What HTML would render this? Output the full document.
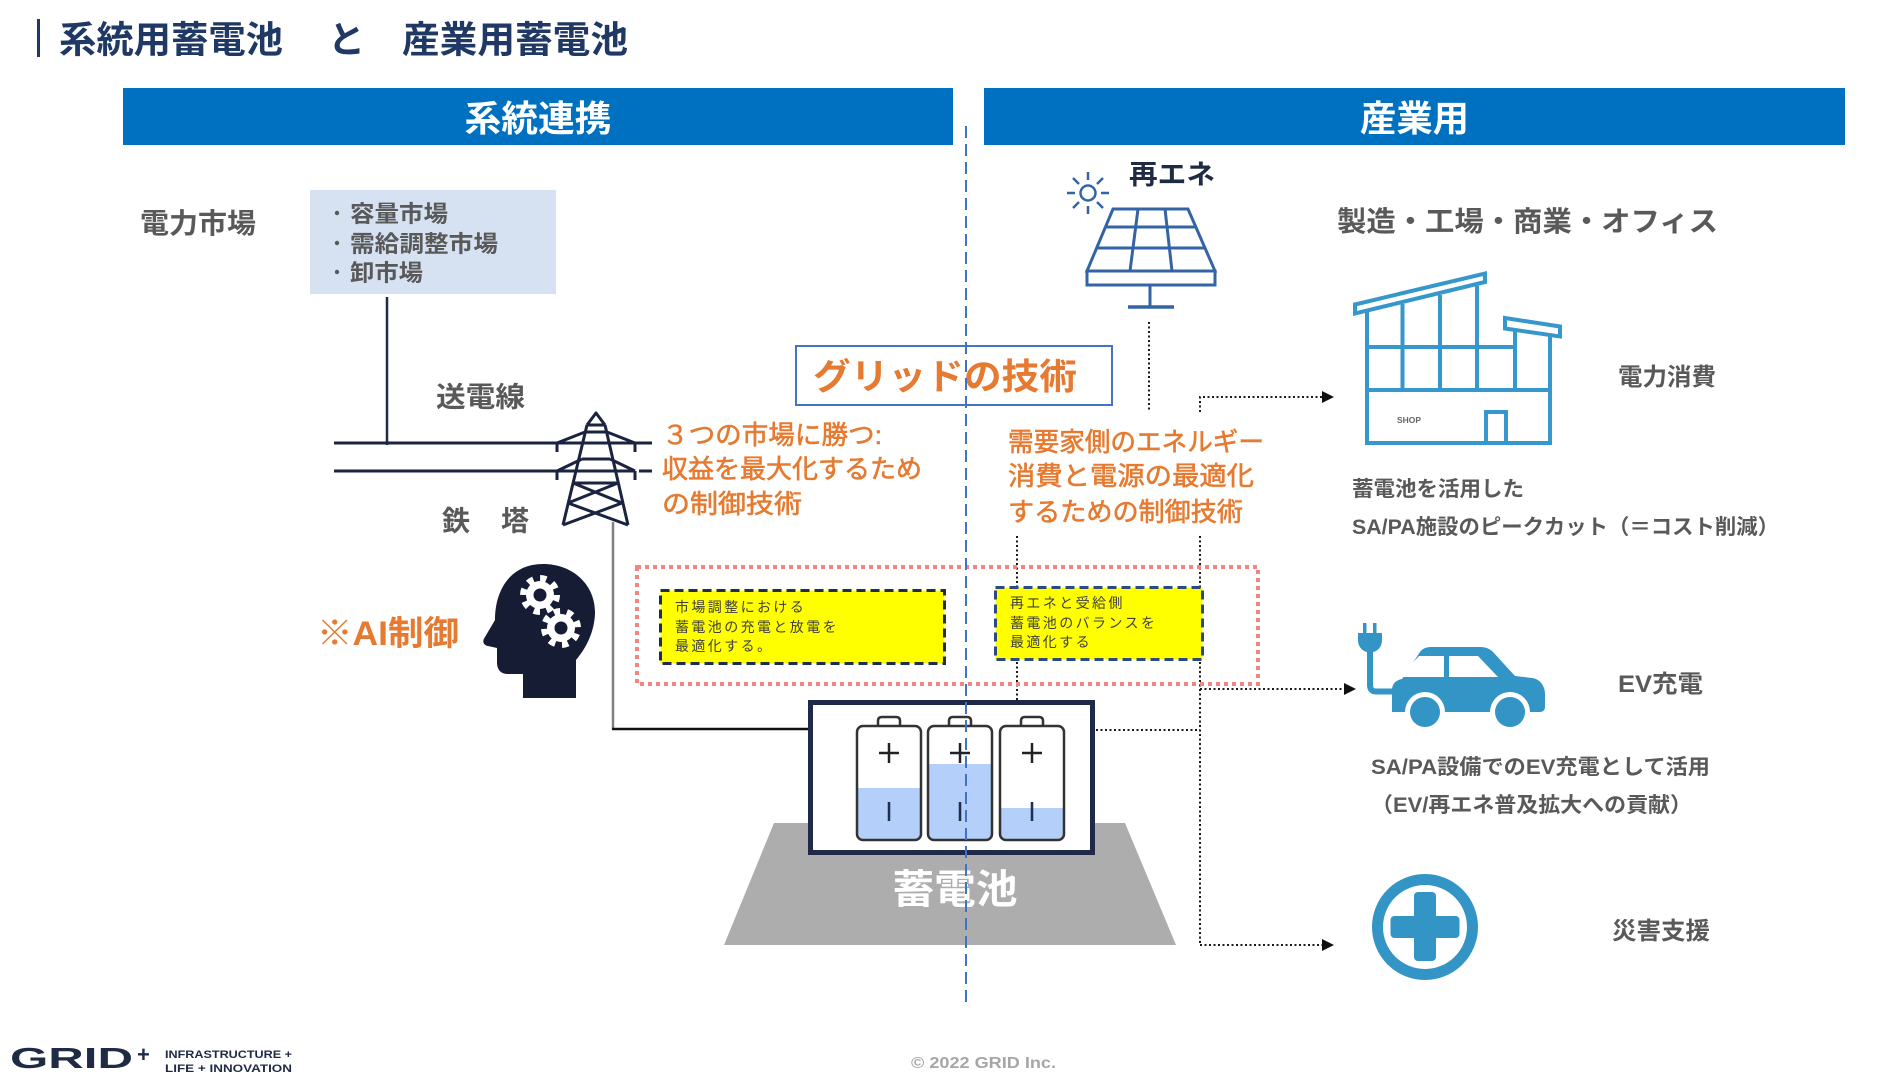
<!DOCTYPE html>
<html><head><meta charset="utf-8"><style>
html,body{margin:0;padding:0;background:#fff;}
svg{display:block;}
text{font-family:"Liberation Sans","Noto Sans CJK JP",sans-serif;}
.b{font-weight:bold;}
.g{fill:#595959;font-weight:bold;}
.o{fill:#e57a30;}
.ot{fill:#e57a30;stroke:#e57a30;stroke-width:0.6;}
</style></head><body>
<svg width="1902" height="1080" viewBox="0 0 1902 1080" xmlns="http://www.w3.org/2000/svg">
<rect width="1902" height="1080" fill="#fff"/>
<!-- Title -->
<rect x="37" y="19" width="3" height="38" fill="#1f3864"/>
<text x="59" y="52.5" font-size="37" class="b" fill="#1f3864" textLength="224" lengthAdjust="spacingAndGlyphs">系統用蓄電池</text>
<text x="328" y="52.5" font-size="37" class="b" fill="#1f3864">と</text>
<text x="402" y="52.5" font-size="37" class="b" fill="#1f3864" textLength="226" lengthAdjust="spacingAndGlyphs">産業用蓄電池</text>
<!-- Header bars -->
<rect x="123" y="88" width="830" height="57" fill="#0070c0"/>
<rect x="984" y="88" width="861" height="57" fill="#0070c0"/>
<text x="538" y="131" font-size="36" class="b" fill="#fff" text-anchor="middle" textLength="147" lengthAdjust="spacingAndGlyphs">系統連携</text>
<text x="1414.5" y="131" font-size="36" class="b" fill="#fff" text-anchor="middle" textLength="109" lengthAdjust="spacingAndGlyphs">産業用</text>
<!-- Market -->
<text x="140" y="233" font-size="28" class="g" textLength="116" lengthAdjust="spacingAndGlyphs">電力市場</text>
<rect x="310" y="190" width="246" height="104" fill="#d6e2f2"/>
<circle cx="337" cy="213" r="2.2" fill="#595959"/>
<circle cx="337" cy="243" r="2.2" fill="#595959"/>
<circle cx="337" cy="272" r="2.2" fill="#595959"/>
<text x="350" y="221.5" font-size="23" class="g" textLength="98" lengthAdjust="spacingAndGlyphs">容量市場</text>
<text x="350" y="251.5" font-size="23" class="g" textLength="148" lengthAdjust="spacingAndGlyphs">需給調整市場</text>
<text x="350" y="280.5" font-size="23" class="g" textLength="73" lengthAdjust="spacingAndGlyphs">卸市場</text>
<!-- transmission -->
<line x1="387" y1="297" x2="387" y2="445" stroke="#1e2a4a" stroke-width="2.5"/>
<text x="436" y="406.5" font-size="28" class="g" textLength="89" lengthAdjust="spacingAndGlyphs">送電線</text>
<text x="442" y="530.5" font-size="28" class="g">鉄</text>
<text x="501" y="530.5" font-size="28" class="g">塔</text>
<g stroke="#1a2340" stroke-width="3" fill="none" stroke-linejoin="round">
<line x1="334" y1="443" x2="652" y2="443"/>
<line x1="334" y1="471" x2="557" y2="471"/>
<line x1="557" y1="471" x2="635" y2="471"/>
<line x1="639" y1="471" x2="652" y2="471"/>
<path d="M587 425 L596 413 L605 425"/>
<path d="M587 425 L563 525 M605 425 L628 525"/>
<path d="M585 432 L557 443 M607 432 L635 443"/>
<path d="M582 459 L557 471 M610 459 L635 471"/>
<path d="M557 443 L557 452 M635 443 L635 452 M557 471 L557 480 M635 471 L635 480"/>
<path d="M587 425 L605 425 M585 432 L607 432 M582 459 L610 459 M573 483 L618 483"/>
<path d="M573 483 L622 503 M618 483 L568 503 M568 503 L628 525 M622 503 L563 525"/>
</g>
<line x1="613" y1="522" x2="613" y2="729" stroke="#808080" stroke-width="2.5"/>
<line x1="612" y1="729" x2="810" y2="729" stroke="#111" stroke-width="2.5"/>
<!-- AI -->
<text x="317" y="645" font-size="34" class="b o" textLength="142" lengthAdjust="spacingAndGlyphs">※AI制御</text>
<path d="M523 698 L523 674 L508 674 C500 674 497 669 497 662 L497 648 L488 646 C483 645 482 641 485 637 L495 620 C495 588 512 564 543 564 C574 564 596 586 595 614 C594 633 586 648 576 660 L576 698 Z" fill="#151c34"/>
<g fill="#fff">
<circle cx="540" cy="595" r="14"/>
<circle cx="540" cy="595" r="16" fill="none" stroke="#fff" stroke-width="8" stroke-dasharray="6 6.566"/>
<circle cx="561" cy="628" r="14"/>
<circle cx="561" cy="628" r="16" fill="none" stroke="#fff" stroke-width="8" stroke-dasharray="6 6.566" transform="rotate(20 561 628)"/>
</g>
<circle cx="540" cy="595" r="6.5" fill="#151c34"/>
<circle cx="561" cy="628" r="6.5" fill="#151c34"/>
<!-- Grid tech box -->
<rect x="796" y="346" width="316" height="59" fill="#fff" stroke="#4472c4" stroke-width="2"/>
<text x="813" y="389" font-size="36" class="b o" textLength="264" lengthAdjust="spacingAndGlyphs">グリッドの技術</text>
<!-- orange paragraphs -->
<text x="662" y="444" font-size="26" class="ot" textLength="220" lengthAdjust="spacingAndGlyphs">３つの市場に勝つ:</text>
<text x="662" y="478" font-size="26" class="ot" textLength="260" lengthAdjust="spacingAndGlyphs">収益を最大化するため</text>
<text x="662" y="513" font-size="26" class="ot" textLength="140" lengthAdjust="spacingAndGlyphs">の制御技術</text>
<text x="1008" y="451" font-size="26" class="ot" textLength="256" lengthAdjust="spacingAndGlyphs">需要家側のエネルギー</text>
<text x="1008" y="485" font-size="26" class="ot" textLength="246" lengthAdjust="spacingAndGlyphs">消費と電源の最適化</text>
<text x="1008" y="521" font-size="26" class="ot" textLength="235" lengthAdjust="spacingAndGlyphs">するための制御技術</text>
<!-- dotted connectors -->
<g stroke="#1a1a1a" stroke-width="2" stroke-dasharray="2 2.5" fill="none">
<line x1="1149" y1="322" x2="1149" y2="410"/>
<path d="M1200 412 L1200 397 L1323 397"/>
<line x1="1017" y1="536" x2="1017" y2="700"/>
<line x1="1200" y1="536" x2="1200" y2="945"/>
<line x1="1200" y1="689" x2="1345" y2="689"/>
<line x1="1096" y1="730" x2="1200" y2="730"/>
<line x1="1200" y1="945" x2="1323" y2="945"/>
</g>
<g fill="#111">
<polygon points="1322,391 1334,397 1322,403"/>
<polygon points="1344,683 1356,689 1344,695"/>
<polygon points="1322,939 1334,945 1322,951"/>
</g>
<!-- red dotted box -->
<rect x="637" y="567" width="621" height="117" fill="none" stroke="#f28580" stroke-width="4" stroke-dasharray="4 4"/>
<!-- yellow boxes -->
<rect x="660.5" y="590.5" width="284" height="73" fill="#ffff00" stroke="#1f2d4f" stroke-width="3" stroke-dasharray="9 5"/>
<g font-size="14" fill="#404040" letter-spacing="2.4">
<text x="675" y="612">市場調整における</text>
<text x="675" y="632">蓄電池の充電と放電を</text>
<text x="675" y="651">最適化する。</text>
</g>
<rect x="995.5" y="587.5" width="207" height="72" fill="#ffff00" stroke="#2c4a80" stroke-width="3" stroke-dasharray="9 5"/>
<g font-size="14" fill="#404040" letter-spacing="2.4">
<text x="1010" y="608">再エネと受給側</text>
<text x="1010" y="628">蓄電池のバランスを</text>
<text x="1010" y="647">最適化する</text>
</g>
<!-- battery base -->
<polygon points="774,823 1125,823 1176,945 724,945" fill="#adadad"/>
<rect x="810.5" y="702.5" width="282" height="150" fill="#fff" stroke="#1f2a4a" stroke-width="5"/>
<!-- batteries -->
<g>
<path d="M857 788 L921 788 L921 834 Q921 840 915 840 L863 840 Q857 840 857 834 Z" fill="#b3cffa"/>
<path d="M928 764 L992 764 L992 834 Q992 840 986 840 L934 840 Q928 840 928 834 Z" fill="#b3cffa"/>
<path d="M1000 808 L1064 808 L1064 834 Q1064 840 1058 840 L1006 840 Q1000 840 1000 834 Z" fill="#b3cffa"/>
<g stroke="#333" stroke-width="2.5" fill="none">
<rect x="857" y="726" width="64" height="114" rx="6"/>
<rect x="928" y="726" width="64" height="114" rx="6"/>
<rect x="1000" y="726" width="64" height="114" rx="6"/>
<path d="M878 726 L878 721 Q878 717 882 717 L896 717 Q900 717 900 721 L900 726"/>
<path d="M949 726 L949 721 Q949 717 953 717 L967 717 Q971 717 971 721 L971 726"/>
<path d="M1021 726 L1021 721 Q1021 717 1025 717 L1039 717 Q1043 717 1043 721 L1043 726"/>
</g>
<g stroke="#222" stroke-width="2.5">
<line x1="879" y1="753" x2="899" y2="753"/><line x1="889" y1="743" x2="889" y2="763"/>
<line x1="950" y1="753" x2="970" y2="753"/><line x1="960" y1="743" x2="960" y2="763"/>
<line x1="1022" y1="753" x2="1042" y2="753"/><line x1="1032" y1="743" x2="1032" y2="763"/>
</g>
<g stroke="#1f2d4f" stroke-width="2.5">
<line x1="889" y1="802" x2="889" y2="821"/>
<line x1="960" y1="802" x2="960" y2="821"/>
<line x1="1032" y1="802" x2="1032" y2="821"/>
</g>
</g>
<text x="955" y="903" font-size="40" class="b" fill="#fff" text-anchor="middle" textLength="125" lengthAdjust="spacingAndGlyphs">蓄電池</text>
<!-- Solar -->
<g stroke="#3464a5" stroke-width="3" fill="none" stroke-linecap="butt">
<circle cx="1088" cy="193" r="7.5" stroke-width="2.5"/>
<g stroke-width="2.5">
<line x1="1088" y1="180" x2="1088" y2="172"/><line x1="1088" y1="206" x2="1088" y2="214"/>
<line x1="1075" y1="193" x2="1067" y2="193"/><line x1="1101" y1="193" x2="1109" y2="193"/>
<line x1="1079" y1="184" x2="1073" y2="178"/><line x1="1097" y1="184" x2="1103" y2="178"/>
<line x1="1079" y1="202" x2="1073" y2="208"/><line x1="1097" y1="202" x2="1103" y2="208"/>
</g>
<polygon points="1113,209 1188,209 1215,271 1087,271"/>
<rect x="1087" y="271" width="128" height="14"/>
<line x1="1105" y1="227" x2="1196" y2="227"/>
<line x1="1096" y1="248" x2="1205" y2="248"/>
<line x1="1138" y1="209" x2="1130" y2="271"/>
<line x1="1165" y1="209" x2="1172" y2="271"/>
<line x1="1150" y1="285" x2="1150" y2="307"/>
<line x1="1128" y1="307" x2="1174" y2="307" stroke-width="3.5"/>
</g>
<text x="1129" y="184" font-size="27" class="b" fill="#1f2a44" textLength="86" lengthAdjust="spacingAndGlyphs">再エネ</text>
<text x="1337" y="231" font-size="28" class="g" textLength="381" lengthAdjust="spacingAndGlyphs">製造・工場・商業・オフィス</text>
<!-- Building -->
<g stroke="#3597cb" stroke-width="4" fill="none" stroke-linejoin="miter">
<polygon points="1355,304.5 1485,273.5 1485,282 1355,313.5"/>
<polygon points="1505,318 1560,326.5 1560,336.5 1505,328.5"/>
<path d="M1367 311 L1367 443 L1550 443 L1550 335"/>
<line x1="1515" y1="330" x2="1515" y2="390"/>
<line x1="1402.5" y1="304" x2="1402.5" y2="390"/>
<line x1="1440" y1="295" x2="1440" y2="390"/>
<line x1="1477" y1="286" x2="1477" y2="390"/>
<line x1="1367" y1="347" x2="1515" y2="347"/>
<line x1="1367" y1="390" x2="1550" y2="390"/>
<path d="M1486 443 L1486 412 L1506 412 L1506 443"/>
</g>
<text x="1397" y="423" font-size="8" class="b" fill="#666" textLength="24" lengthAdjust="spacingAndGlyphs">SHOP</text>
<text x="1618" y="385" font-size="24" class="g" textLength="98" lengthAdjust="spacingAndGlyphs">電力消費</text>
<text x="1352" y="496" font-size="21" class="g" textLength="172" lengthAdjust="spacingAndGlyphs">蓄電池を活用した</text>
<text x="1352" y="534" font-size="21" class="g" textLength="427" lengthAdjust="spacingAndGlyphs">SA/PA施設のピークカット（＝コスト削減）</text>
<!-- EV car -->
<g fill="#3394c6">
<rect x="1363" y="623" width="3.5" height="11"/>
<rect x="1373" y="623" width="3.5" height="11"/>
<path d="M1358 633 L1382 633 L1382 640 C1382 647 1377 652 1372 652 L1368 652 C1363 652 1358 647 1358 640 Z"/>
<path d="M1392 712 L1392 690 C1392 684 1396 680 1402 679 L1420 652 C1423 648 1427 647 1432 647 L1480 647 C1486 647 1490 649 1493 652 L1515 676 L1532 678 C1540 679 1545 686 1545 694 L1545 707 C1545 710 1543 712 1540 712 Z"/>
</g>
<path d="M1370 650 L1370 685 Q1370 691.5 1376 691.5 L1393 691.5" stroke="#3394c6" stroke-width="6" fill="none"/>
<polygon points="1399,677 1419,656 1444,656 1444,677" fill="#fff"/>
<polygon points="1449,656 1478,656 1498,677 1449,677" fill="#fff"/>
<circle cx="1425" cy="712" r="20" fill="#fff"/>
<circle cx="1510" cy="712" r="20" fill="#fff"/>
<circle cx="1425" cy="712" r="15" fill="#3394c6"/>
<circle cx="1510" cy="712" r="15" fill="#3394c6"/>
<text x="1618" y="692" font-size="24" class="g" textLength="85" lengthAdjust="spacingAndGlyphs">EV充電</text>
<text x="1371" y="774" font-size="21" class="g" textLength="339" lengthAdjust="spacingAndGlyphs">SA/PA設備でのEV充電として活用</text>
<text x="1371" y="812" font-size="21" class="g" textLength="321" lengthAdjust="spacingAndGlyphs">（EV/再エネ普及拡大への貢献）</text>
<!-- Disaster -->
<circle cx="1425" cy="927" r="47.5" fill="none" stroke="#3394c6" stroke-width="11"/>
<rect x="1414" y="892" width="22" height="69" rx="4" fill="#3394c6"/>
<rect x="1390.5" y="916" width="69" height="22" rx="4" fill="#3394c6"/>
<text x="1612" y="939" font-size="24" class="g" textLength="98" lengthAdjust="spacingAndGlyphs">災害支援</text>
<!-- Footer -->
<text x="10" y="1068" font-size="29" class="b" fill="#1f2a44" textLength="123" lengthAdjust="spacingAndGlyphs">GRID</text>
<text x="137" y="1062" font-size="22" class="b" fill="#1f2a44">+</text>
<text x="165" y="1058" font-size="11" class="b" fill="#1f2a44" textLength="127" lengthAdjust="spacingAndGlyphs">INFRASTRUCTURE +</text>
<text x="165" y="1072" font-size="11" class="b" fill="#1f2a44" textLength="127" lengthAdjust="spacingAndGlyphs">LIFE + INNOVATION</text>
<text x="911" y="1068" font-size="16" class="b" fill="#a6a6a6" textLength="145" lengthAdjust="spacingAndGlyphs">© 2022 GRID Inc.</text>
<!-- blue dashed divider -->
<line x1="966" y1="126" x2="966" y2="1006" stroke="#3f74c4" stroke-width="2" stroke-dasharray="12 6"/>
</svg>
</body></html>
